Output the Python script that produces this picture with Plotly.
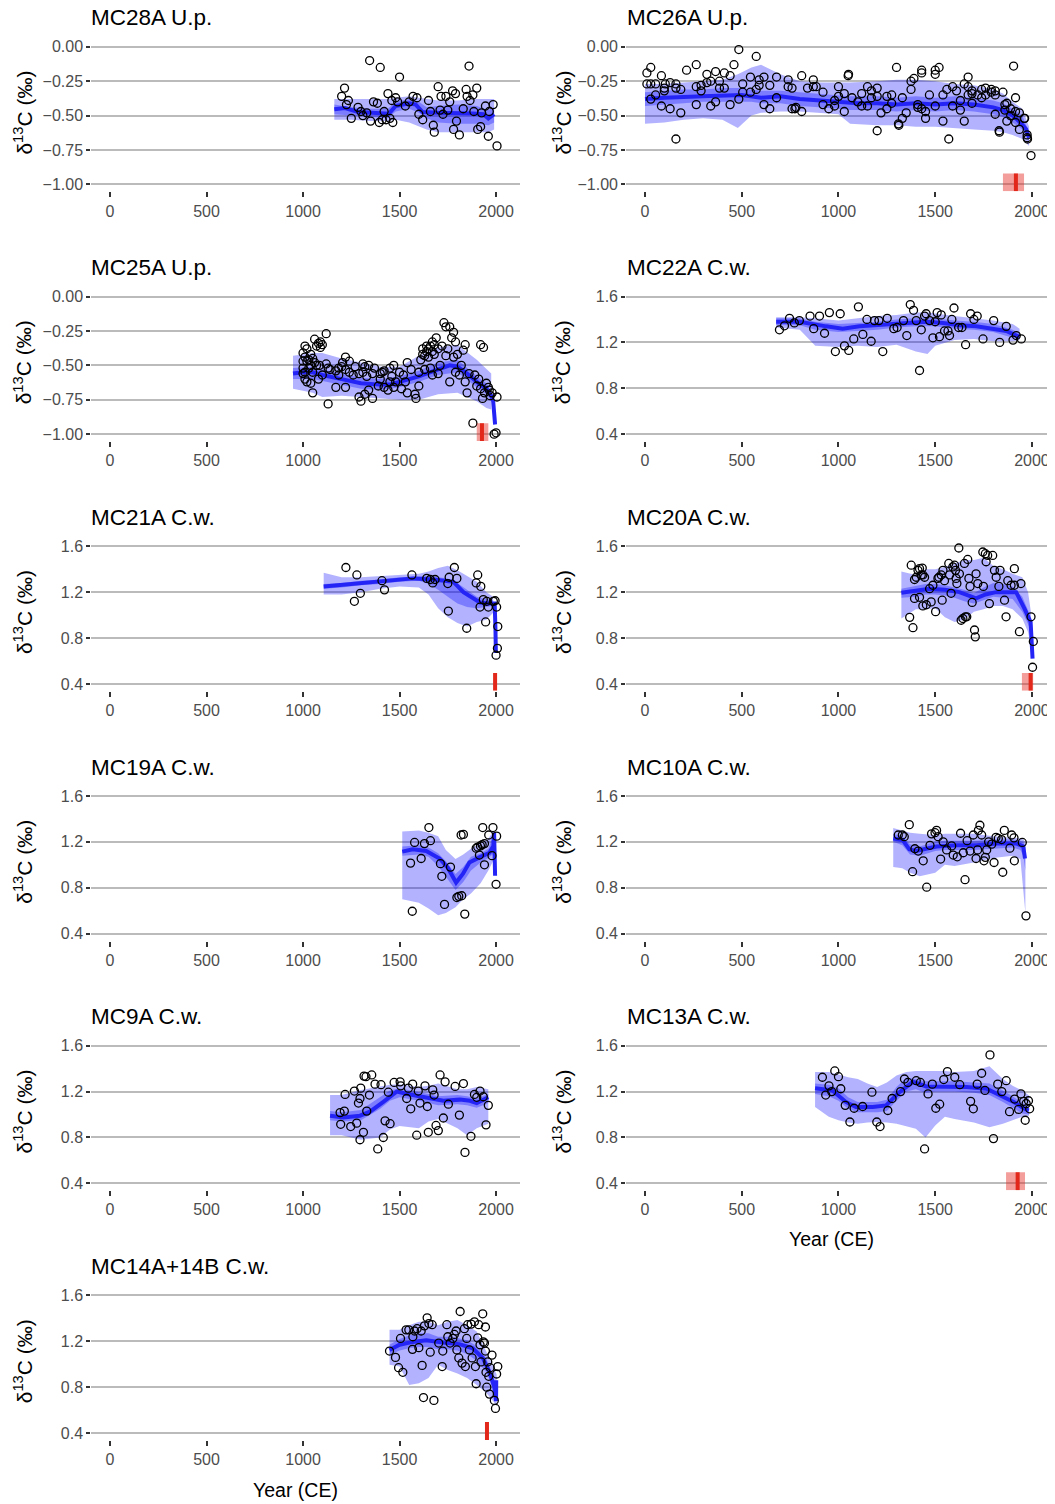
import plotly.graph_objects as go

# ---------------- data ----------------
TITLES = ["MC28A U.p.", "MC26A U.p.", "MC25A U.p.", "MC22A C.w.", "MC21A C.w.", "MC20A C.w.",
          "MC19A C.w.", "MC10A C.w.", "MC9A C.w.", "MC13A C.w.", "MC14A+14B C.w."]
KINDS = ["U.p.", "U.p.", "U.p.", "C.w.", "C.w.", "C.w.", "C.w.", "C.w.", "C.w.", "C.w.", "C.w."]

X_TICKS = [0, 500, 1000, 1500, 2000]
Y_TICKS_UP = [-1.00, -0.75, -0.50, -0.25, 0.00]
Y_TICKS_CW = [0.4, 0.8, 1.2, 1.6]

# points: (year CE, d13C)
MC28A_points = [(1200,-0.36),(1215,-0.30),(1225,-0.42),(1235,-0.39),(1250,-0.52),(1285,-0.44),(1300,-0.47),
    (1310,-0.50),(1330,-0.48),(1345,-0.10),(1350,-0.54),(1365,-0.40),(1385,-0.41),(1395,-0.55),(1400,-0.15),
    (1410,-0.53),(1420,-0.47),(1430,-0.53),(1440,-0.34),(1450,-0.52),(1460,-0.39),(1465,-0.55),(1480,-0.37),
    (1490,-0.40),(1500,-0.22),(1530,-0.43),(1550,-0.40),(1570,-0.36),(1590,-0.37),(1600,-0.49),(1620,-0.53),
    (1650,-0.39),(1660,-0.47),(1675,-0.57),(1680,-0.62),(1700,-0.29),(1710,-0.46),(1715,-0.36),(1725,-0.49),
    (1740,-0.36),(1750,-0.46),(1760,-0.40),(1775,-0.32),(1780,-0.60),(1790,-0.34),(1795,-0.54),(1810,-0.64),
    (1830,-0.45),(1845,-0.31),(1850,-0.36),(1860,-0.14),(1865,-0.39),(1880,-0.35),(1885,-0.47),(1900,-0.30),
    (1905,-0.60),(1920,-0.58),(1925,-0.48),(1945,-0.43),(1960,-0.65),(1965,-0.47),(1985,-0.42),(2005,-0.72)]
MC26A_points = [(10,-0.19),(10,-0.27),(30,-0.15),(30,-0.27),(30,-0.38),(55,-0.27),(55,-0.35),(85,-0.21),(85,-0.43),
    (100,-0.30),(100,-0.32),(105,-0.27),(130,-0.26),(130,-0.45),(160,-0.27),(160,-0.30),(160,-0.67),(185,-0.31),
    (185,-0.48),(215,-0.17),(265,-0.13),(265,-0.29),(265,-0.42),(290,-0.28),(290,-0.32),(320,-0.20),(320,-0.26),
    (340,-0.43),(340,-0.25),(365,-0.18),(365,-0.40),(385,-0.25),(385,-0.30),(410,-0.19),(410,-0.30),(440,-0.21),
    (440,-0.42),(460,-0.13),(485,-0.02),(485,-0.38),(505,-0.27),(505,-0.33),(545,-0.22),(545,-0.33),(575,-0.07),
    (575,-0.31),(590,-0.24),(590,-0.28),(615,-0.22),(615,-0.42),(645,-0.28),(645,-0.45),(680,-0.22),(680,-0.37),
    (740,-0.24),(740,-0.29),(760,-0.30),(760,-0.45),(775,-0.45),(780,-0.44),(810,-0.21),(810,-0.47),(840,-0.30),
    (870,-0.24),(870,-0.29),(885,-0.29),(920,-0.33),(920,-0.42),(950,-0.45),(980,-0.43),(980,-0.39),(1000,-0.29),
    (1000,-0.36),(1030,-0.34),(1030,-0.47),(1050,-0.21),(1052,-0.20),(1070,-0.37),(1100,-0.40),(1120,-0.34),
    (1120,-0.43),(1150,-0.29),(1150,-0.43),(1170,-0.32),(1170,-0.37),(1200,-0.30),(1200,-0.36),(1200,-0.61),
    (1220,-0.48),(1250,-0.36),(1250,-0.45),(1275,-0.35),(1275,-0.41),(1300,-0.15),(1310,-0.56),(1312,-0.57),
    (1330,-0.52),(1330,-0.37),(1350,-0.48),(1375,-0.31),(1375,-0.25),(1390,-0.23),(1410,-0.44),(1410,-0.42),
    (1430,-0.17),(1430,-0.19),(1430,-0.45),(1450,-0.52),(1450,-0.47),(1470,-0.35),(1500,-0.17),(1500,-0.20),
    (1500,-0.43),(1520,-0.15),(1540,-0.54),(1540,-0.35),(1560,-0.31),(1570,-0.67),(1590,-0.29),(1590,-0.43),
    (1610,-0.32),(1630,-0.39),(1630,-0.46),(1650,-0.54),(1650,-0.27),(1670,-0.29),(1670,-0.35),(1670,-0.22),
    (1690,-0.34),(1690,-0.32),(1690,-0.41),(1720,-0.35),(1740,-0.37),(1740,-0.31),(1760,-0.30),(1760,-0.35),
    (1790,-0.31),(1790,-0.33),(1810,-0.32),(1810,-0.35),(1810,-0.49),(1830,-0.61),(1832,-0.62),(1850,-0.33),
    (1860,-0.42),(1860,-0.46),(1870,-0.41),(1870,-0.54),(1890,-0.45),(1890,-0.50),(1905,-0.14),(1915,-0.37),
    (1915,-0.55),(1915,-0.47),(1935,-0.60),(1935,-0.48),(1960,-0.52),(1962,-0.52),(1975,-0.64),(1975,-0.66),
    (1977,-0.67),(1995,-0.79)]
MC25A_points = [(1000,-0.41),(1000,-0.47),(1000,-0.52),(1000,-0.56),(1010,-0.36),(1010,-0.44),(1010,-0.55),
    (1010,-0.60),(1020,-0.38),(1020,-0.47),(1020,-0.62),(1030,-0.46),(1030,-0.52),(1040,-0.42),(1040,-0.50),
    (1040,-0.63),(1050,-0.45),(1050,-0.55),(1050,-0.70),(1060,-0.31),(1060,-0.48),(1070,-0.36),(1070,-0.50),
    (1080,-0.34),(1080,-0.60),(1085,-0.50),(1090,-0.33),(1090,-0.37),(1100,-0.35),(1100,-0.57),(1120,-0.27),
    (1120,-0.49),(1130,-0.52),(1130,-0.78),(1140,-0.53),(1170,-0.54),(1170,-0.66),(1185,-0.52),(1185,-0.57),
    (1200,-0.51),(1205,-0.48),(1220,-0.53),(1220,-0.44),(1220,-0.66),(1240,-0.47),(1240,-0.55),(1260,-0.57),
    (1270,-0.51),(1290,-0.56),(1290,-0.73),(1300,-0.76),(1310,-0.55),(1310,-0.49),(1320,-0.51),(1320,-0.71),
    (1330,-0.58),(1340,-0.50),(1340,-0.68),(1360,-0.56),(1360,-0.74),(1370,-0.52),(1390,-0.65),(1400,-0.56),
    (1400,-0.60),(1410,-0.55),(1420,-0.54),(1420,-0.66),(1440,-0.68),(1450,-0.52),(1450,-0.62),(1460,-0.58),
    (1470,-0.50),(1470,-0.66),(1480,-0.62),(1500,-0.55),(1510,-0.67),(1520,-0.57),(1530,-0.62),(1540,-0.48),
    (1540,-0.70),(1560,-0.53),(1580,-0.71),(1585,-0.74),(1600,-0.55),(1600,-0.65),(1610,-0.46),(1620,-0.38),
    (1620,-0.42),(1630,-0.43),(1630,-0.53),(1640,-0.36),(1640,-0.40),(1650,-0.38),(1650,-0.44),(1660,-0.36),
    (1660,-0.52),(1670,-0.33),(1670,-0.57),(1670,-0.40),(1680,-0.35),(1680,-0.42),(1690,-0.30),(1700,-0.38),
    (1700,-0.56),(1710,-0.50),(1720,-0.36),(1730,-0.19),(1740,-0.22),(1740,-0.43),(1750,-0.38),(1760,-0.22),
    (1760,-0.62),(1770,-0.30),(1780,-0.26),(1780,-0.44),(1790,-0.33),(1790,-0.55),(1800,-0.42),(1810,-0.57),
    (1820,-0.50),(1830,-0.39),(1840,-0.35),(1840,-0.62),(1850,-0.70),(1860,-0.56),(1880,-0.92),(1890,-0.57),
    (1900,-0.65),(1910,-0.60),(1920,-0.35),(1920,-0.67),(1930,-0.74),(1935,-0.37),(1940,-0.70),(1950,-0.63),
    (1960,-0.66),(1965,-0.68),(1970,-0.72),(1980,-0.70),(1990,-1.00),(2000,-0.99),(2005,-0.73)]
MC22A_points = [(695,1.31),(721,1.345),(747,1.41),(772,1.37),(798,1.39),(853,1.43),(872,1.32),(902,1.43),
    (928,1.28),(953,1.46),(984,1.12),(1009,1.45),(1031,1.17),(1053,1.13),(1079,1.23),(1103,1.51),(1126,1.27),
    (1147,1.40),(1169,1.21),(1186,1.39),(1209,1.39),(1229,1.12),(1252,1.41),(1286,1.32),(1303,1.33),(1336,1.39),
    (1353,1.26),(1371,1.53),(1388,1.48),(1402,1.39),(1419,0.955),(1428,1.31),(1445,1.43),(1453,1.45),(1471,1.39),
    (1488,1.24),(1500,1.38),(1510,1.46),(1522,1.25),(1531,1.44),(1548,1.30),(1566,1.30),(1574,1.26),(1586,1.40),
    (1597,1.50),(1621,1.33),(1638,1.33),(1657,1.18),(1683,1.45),(1700,1.40),(1717,1.43),(1747,1.23),(1802,1.39),
    (1833,1.20),(1867,1.34),(1902,1.22),(1919,1.26),(1945,1.23)]
MC21A_points = [(1222,1.415),(1266,1.12),(1279,1.35),(1297,1.19),(1409,1.30),(1422,1.22),(1564,1.35),(1641,1.32),
    (1659,1.31),(1672,1.28),(1684,1.31),(1750,1.275),(1753,1.035),(1757,1.33),(1784,1.415),(1797,1.32),
    (1848,0.885),(1897,1.28),(1905,1.35),(1917,1.07),(1921,1.25),(1934,1.135),(1946,0.94),(1952,1.12),
    (1960,1.07),(1986,1.12),(1995,1.125),(2003,1.07),(2009,0.90),(2007,0.71),(2000,0.65)]
MC20A_points = [(1622,1.585),(1376,1.435),(1368,0.98),(1385,0.89),(1393,1.31),(1402,1.33),(1411,1.39),(1419,1.405),
    (1433,1.41),(1428,1.35),(1436,1.35),(1445,1.33),(1393,1.145),(1419,1.155),(1436,1.08),(1454,1.09),(1479,1.115),
    (1502,1.03),(1471,1.23),(1488,1.26),(1514,1.32),(1519,1.33),(1531,1.35),(1540,1.39),(1536,1.13),(1548,1.30),
    (1570,1.45),(1574,1.35),(1582,1.19),(1591,1.42),(1600,1.435),(1605,1.39),(1608,1.32),(1612,1.275),(1625,1.36),
    (1634,0.955),(1643,0.97),(1656,0.985),(1663,0.985),(1651,1.45),(1668,1.485),(1674,1.32),(1680,1.25),
    (1691,1.11),(1703,0.87),(1707,0.81),(1711,1.36),(1720,1.275),(1746,1.55),(1759,1.535),(1771,1.52),
    (1763,1.465),(1749,1.25),(1780,1.10),(1797,1.52),(1806,1.39),(1815,1.33),(1829,1.25),(1835,1.39),
    (1858,1.13),(1866,0.985),(1875,1.30),(1892,1.26),(1909,1.405),(1909,1.26),(1935,0.855),(1943,1.275),
    (1995,0.985),(2007,0.77),(2003,0.545)]
MC19A_points = [(1652,1.325),(1578,1.195),(1629,1.185),(1660,1.21),(1557,1.015),(1612,1.055),(1566,0.595),
    (1712,1.01),(1719,0.90),(1764,0.98),(1733,0.655),(1797,0.715),(1807,0.725),(1822,0.73),(1819,1.26),
    (1831,1.265),(1838,0.57),(1897,1.145),(1905,1.155),(1919,1.165),(1928,1.175),(1940,1.185),(1914,1.085),
    (1931,1.325),(1940,1.0),(1962,1.26),(1979,1.08),(1984,1.325),(2003,1.25),(2000,0.83)]
MC10A_points = [(1309,1.26),(1330,1.26),(1340,1.245),(1366,1.35),(1383,0.94),(1395,1.14),(1412,1.12),(1438,1.035),
    (1456,0.805),(1473,1.17),(1481,1.27),(1499,1.28),(1507,1.30),(1515,1.245),(1528,1.05),(1541,1.20),(1559,1.13),
    (1585,1.165),(1593,1.085),(1614,1.07),(1631,1.275),(1654,0.87),(1645,1.105),(1665,1.21),(1680,1.12),
    (1697,1.26),(1711,1.055),(1719,1.13),(1723,1.30),(1731,1.345),(1740,1.26),(1752,1.035),(1759,1.065),
    (1766,1.13),(1776,1.20),(1792,1.18),(1804,1.02),(1814,1.24),(1826,1.23),(1843,1.22),(1849,0.935),(1857,1.30),
    (1886,1.145),(1895,1.26),(1907,1.235),(1909,1.035),(1950,1.195),(1969,0.555)]
MC9A_points = [(1192,1.017),(1214,1.03),(1195,0.915),(1218,1.175),(1247,0.895),(1266,1.205),(1278,0.925),
    (1287,1.10),(1295,1.14),(1299,1.23),(1295,0.78),(1313,0.845),(1316,1.335),(1326,1.33),(1330,1.03),(1344,1.17),
    (1356,1.345),(1373,1.265),(1387,0.70),(1404,1.26),(1416,0.80),(1425,0.945),(1442,1.195),(1451,0.92),
    (1472,1.28),(1503,1.285),(1506,1.25),(1537,1.14),(1546,1.23),(1558,1.05),(1568,1.265),(1589,0.82),
    (1597,1.205),(1606,1.10),(1632,1.25),(1644,1.07),(1649,0.845),(1672,1.215),(1679,1.17),(1689,0.905),
    (1701,0.86),(1710,1.345),(1727,0.97),(1736,1.285),(1753,1.09),(1788,1.245),(1810,0.995),(1831,1.27),
    (1839,0.67),(1870,0.81),(1888,1.175),(1900,1.15),(1917,1.205),(1934,1.155),(1948,0.91),(1960,1.08)]
MC13A_points = [(917,1.325),(934,1.17),(951,1.25),(965,1.20),(981,1.38),(1000,1.33),(1012,1.225),(1035,1.08),
    (1059,0.935),(1081,1.055),(1125,1.07),(1173,1.195),(1198,0.935),(1215,0.895),(1255,1.035),(1277,1.14),
    (1321,1.20),(1341,1.31),(1359,1.28),(1402,1.295),(1423,1.28),(1445,0.70),(1463,1.18),(1485,1.265),
    (1503,1.055),(1523,1.09),(1544,1.305),(1563,1.375),(1601,1.325),(1627,1.26),(1683,1.115),(1697,1.05),
    (1717,1.265),(1740,1.36),(1757,1.21),(1783,1.52),(1801,0.79),(1823,1.265),(1844,1.20),(1867,1.295),
    (1884,1.025),(1910,1.135),(1931,1.045),(1943,1.18),(1957,1.115),(1965,0.95),(1970,1.095),(1982,1.12),
    (1988,1.05)]
MC14A_points = [(1448,1.115),(1479,1.06),(1495,0.97),(1517,0.93),(1505,1.225),(1534,1.30),(1548,1.30),(1567,1.13),
    (1569,1.24),(1578,1.29),(1591,1.31),(1600,1.145),(1612,1.29),(1617,0.99),(1629,1.335),(1643,1.405),
    (1652,1.355),(1659,1.105),(1669,1.345),(1678,0.685),(1624,0.71),(1703,1.185),(1721,0.98),(1724,1.115),
    (1745,1.345),(1750,1.24),(1762,1.185),(1776,1.225),(1784,1.26),(1793,1.29),(1797,1.125),(1807,1.055),
    (1814,1.46),(1824,1.01),(1836,1.31),(1841,0.98),(1848,1.225),(1853,1.345),(1862,1.125),(1871,1.35),
    (1876,1.055),(1888,1.37),(1893,0.98),(1897,0.83),(1905,1.23),(1910,1.345),(1917,1.17),(1922,1.02),
    (1931,1.44),(1934,1.195),(1940,1.185),(1945,1.115),(1945,1.325),(1948,0.93),(1952,0.80),(1957,1.02),
    (1962,0.895),(1966,0.74),(1969,0.97),(1979,1.08),(1991,0.685),(1997,0.615),(2003,0.915),(2009,0.98)]

# smoothed curve: (year, d13C)
MC28A_line = [(1162,-0.454),(1217,-0.445),(1287,-0.474),(1350,-0.48),(1445,-0.486),(1480,-0.43),(1549,-0.41),
    (1584,-0.42),(1619,-0.474),(1700,-0.48),(1794,-0.48),(1880,-0.485),(1934,-0.49),(1960,-0.52),(1990,-0.49)]
MC26A_line = [(0,-0.38),(100,-0.37),(300,-0.36),(500,-0.35),(600,-0.37),(700,-0.36),(800,-0.38),(900,-0.39),
    (1000,-0.40),(1100,-0.41),(1200,-0.41),(1300,-0.42),(1400,-0.41),(1500,-0.42),(1600,-0.41),(1700,-0.42),
    (1800,-0.44),(1850,-0.46),(1900,-0.50),(1940,-0.55),(1970,-0.60),(1985,-0.66)]
MC25A_line = [(948,-0.56),(1000,-0.55),(1050,-0.55),(1100,-0.57),(1200,-0.60),(1300,-0.63),(1400,-0.64),
    (1450,-0.64),(1500,-0.62),(1600,-0.58),(1700,-0.53),(1760,-0.50),(1800,-0.51),(1850,-0.56),(1900,-0.62),
    (1950,-0.67),(1975,-0.72),(1985,-0.76),(1995,-0.93)]
MC22A_line = [(678,1.38),(798,1.38),(936,1.34),(1022,1.32),(1109,1.34),(1281,1.36),(1453,1.38),(1540,1.37),
    (1626,1.35),(1712,1.34),(1798,1.32),(1867,1.30),(1919,1.26),(1936,1.25)]
MC21A_line = [(1107,1.25),(1245,1.27),(1417,1.29),(1572,1.32),(1676,1.31),(1779,1.29),(1831,1.20),(1917,1.11),
    (1969,1.10),(1993,1.10),(1997,0.87),(1999,0.67)]
MC20A_line = [(1325,1.195),(1400,1.21),(1471,1.23),(1550,1.22),(1625,1.20),(1711,1.145),(1760,1.18),(1814,1.20),
    (1918,1.20),(1960,1.06),(1993,0.94),(2003,0.62)]
MC19A_line = [(1514,1.115),(1569,1.135),(1638,1.12),(1707,1.055),(1750,0.975),(1793,0.845),(1828,0.92),
    (1862,1.02),(1914,1.065),(1966,1.105),(1986,1.165),(1990,1.28),(1995,0.905)]
MC10A_line = [(1283,1.23),(1332,1.215),(1366,1.135),(1400,1.12),(1507,1.16),(1610,1.17),(1714,1.17),(1817,1.185),
    (1921,1.185),(1955,1.16),(1964,1.055)]
MC9A_line = [(1140,0.99),(1209,0.975),(1295,0.99),(1347,1.025),(1416,1.11),(1485,1.20),(1554,1.175),(1640,1.15),
    (1727,1.12),(1813,1.13),(1865,1.12),(1900,1.10),(1934,1.13),(1960,1.15)]
MC13A_line = [(879,1.23),(969,1.21),(1038,1.11),(1090,1.065),(1177,1.065),(1246,1.08),(1315,1.195),(1385,1.285),
    (1454,1.245),(1575,1.245),(1662,1.24),(1766,1.225),(1835,1.165),(1905,1.11),(1957,1.055),(1983,1.035)]
MC14A_line = [(1448,1.125),(1500,1.17),(1569,1.195),(1638,1.21),(1724,1.19),(1810,1.175),(1879,1.14),
    (1931,1.055),(1966,0.935),(1991,0.80),(2000,0.68),(2001,0.86)]

# envelopes: (year, outer_low, inner_low, inner_high, outer_high)
MC28A_band = [(1162,-0.53,-0.49,-0.42,-0.38),(1250,-0.53,-0.50,-0.44,-0.38),(1350,-0.54,-0.51,-0.45,-0.38),
    (1440,-0.54,-0.52,-0.45,-0.38),(1480,-0.53,-0.47,-0.40,-0.37),(1550,-0.55,-0.45,-0.38,-0.36),
    (1600,-0.58,-0.48,-0.40,-0.37),(1640,-0.60,-0.52,-0.44,-0.38),(1700,-0.62,-0.55,-0.43,-0.39),
    (1800,-0.62,-0.56,-0.42,-0.39),(1900,-0.62,-0.56,-0.43,-0.38),(1960,-0.62,-0.57,-0.46,-0.38),
    (1990,-0.60,-0.55,-0.44,-0.38)]
MC26A_band = [(0,-0.56,-0.43,-0.33,-0.27),(100,-0.55,-0.42,-0.32,-0.27),(200,-0.53,-0.41,-0.31,-0.26),
    (300,-0.52,-0.40,-0.31,-0.25),(400,-0.53,-0.40,-0.30,-0.24),(480,-0.59,-0.40,-0.30,-0.20),
    (550,-0.50,-0.40,-0.31,-0.15),(600,-0.48,-0.41,-0.32,-0.13),(700,-0.47,-0.41,-0.32,-0.20),
    (800,-0.47,-0.43,-0.33,-0.25),(900,-0.48,-0.44,-0.34,-0.26),(1000,-0.49,-0.45,-0.35,-0.26),
    (1060,-0.56,-0.46,-0.36,-0.26),(1200,-0.57,-0.46,-0.36,-0.25),(1300,-0.57,-0.47,-0.37,-0.24),
    (1400,-0.58,-0.46,-0.36,-0.24),(1500,-0.58,-0.47,-0.37,-0.25),(1600,-0.59,-0.46,-0.36,-0.27),
    (1700,-0.60,-0.47,-0.37,-0.28),(1800,-0.61,-0.49,-0.39,-0.31),(1850,-0.62,-0.51,-0.41,-0.34),
    (1900,-0.64,-0.55,-0.45,-0.40),(1950,-0.67,-0.60,-0.50,-0.45),(1985,-0.72,-0.69,-0.62,-0.58)]
MC25A_band = [(948,-0.67,-0.60,-0.52,-0.43),(1050,-0.70,-0.60,-0.51,-0.41),(1100,-0.73,-0.61,-0.53,-0.41),
    (1200,-0.72,-0.64,-0.56,-0.45),(1300,-0.73,-0.67,-0.59,-0.48),(1400,-0.74,-0.68,-0.60,-0.51),
    (1500,-0.75,-0.66,-0.58,-0.51),(1600,-0.75,-0.62,-0.54,-0.43),(1700,-0.71,-0.57,-0.48,-0.37),
    (1800,-0.70,-0.55,-0.46,-0.35),(1900,-0.76,-0.66,-0.58,-0.46),(1950,-0.81,-0.71,-0.63,-0.53),
    (1975,-0.82,-0.76,-0.69,-0.56)]
MC22A_band = [(678,1.33,1.35,1.41,1.42),(800,1.31,1.35,1.41,1.42),(880,1.17,1.31,1.38,1.41),(1000,1.16,1.29,1.36,1.39),
    (1100,1.17,1.30,1.37,1.41),(1200,1.16,1.31,1.38,1.43),(1300,1.18,1.33,1.40,1.44),(1400,1.12,1.34,1.41,1.46),
    (1460,1.10,1.34,1.42,1.46),(1500,1.17,1.34,1.41,1.45),(1600,1.22,1.32,1.39,1.43),(1700,1.23,1.31,1.38,1.41),
    (1800,1.21,1.29,1.36,1.39),(1900,1.21,1.24,1.31,1.36),(1936,1.22,1.23,1.28,1.32)]
MC21A_band = [(1107,1.18,1.23,1.27,1.37),(1200,1.18,1.24,1.28,1.33),(1300,1.20,1.26,1.30,1.33),(1400,1.23,1.27,1.31,1.34),
    (1500,1.25,1.29,1.33,1.35),(1600,1.24,1.30,1.34,1.36),(1650,1.18,1.27,1.34,1.38),(1700,1.06,1.22,1.33,1.41),
    (1750,0.98,1.16,1.32,1.43),(1800,0.93,1.10,1.28,1.39),(1850,0.90,1.07,1.22,1.34),(1900,0.94,1.06,1.16,1.29),
    (1950,0.96,1.07,1.14,1.20),(1985,1.02,1.08,1.13,1.16)]
MC20A_band = [(1325,0.97,1.15,1.23,1.38),(1400,1.05,1.16,1.25,1.35),(1450,1.05,1.18,1.27,1.40),(1500,1.06,1.18,1.27,1.40),
    (1550,0.98,1.17,1.26,1.42),(1600,0.94,1.15,1.24,1.45),(1650,0.96,1.12,1.22,1.48),(1700,1.03,1.10,1.19,1.48),
    (1750,1.05,1.13,1.24,1.50),(1800,1.08,1.16,1.28,1.43),(1850,1.08,1.15,1.27,1.40),(1900,1.05,1.14,1.25,1.36),
    (1950,0.97,1.03,1.16,1.33),(1980,0.85,0.92,1.04,1.20),(1995,0.72,0.85,0.95,1.02)]
MC19A_band = [(1514,0.70,1.08,1.16,1.29),(1600,0.67,1.09,1.17,1.30),(1650,0.62,1.07,1.15,1.28),(1700,0.56,0.99,1.10,1.25),
    (1740,0.58,0.90,1.03,1.13),(1790,0.63,0.78,0.92,1.05),(1830,0.70,0.85,0.98,1.09),(1870,0.75,0.95,1.07,1.14),
    (1920,0.84,1.02,1.10,1.19),(1960,0.95,1.06,1.14,1.23),(1990,1.05,1.10,1.28,1.30)]
MC10A_band = [(1283,0.98,1.20,1.27,1.32),(1330,0.97,1.17,1.25,1.30),(1370,0.93,1.09,1.18,1.28),(1420,0.90,1.08,1.16,1.27),
    (1500,0.93,1.12,1.20,1.26),(1550,1.00,1.13,1.21,1.27),(1600,0.99,1.13,1.21,1.27),(1700,1.02,1.13,1.21,1.27),
    (1800,1.06,1.14,1.22,1.25),(1900,1.08,1.15,1.22,1.24),(1940,1.05,1.13,1.21,1.23),(1955,0.80,1.08,1.20,1.22),
    (1966,0.58,0.95,1.15,1.20)]
MC9A_band = [(1140,0.82,0.95,1.03,1.17),(1200,0.82,0.94,1.02,1.17),(1300,0.78,0.95,1.04,1.215),(1400,0.80,1.05,1.15,1.245),
    (1450,0.87,1.12,1.21,1.26),(1500,0.90,1.15,1.23,1.265),(1600,0.88,1.12,1.20,1.24),(1650,0.94,1.10,1.18,1.25),
    (1700,0.96,1.08,1.16,1.27),(1800,0.88,1.09,1.17,1.22),(1850,0.82,1.08,1.16,1.22),(1900,0.88,1.06,1.14,1.24),
    (1960,0.92,1.10,1.18,1.22)]
MC13A_band = [(879,1.065,1.18,1.27,1.37),(950,0.98,1.16,1.26,1.37),(1000,0.95,1.12,1.23,1.35),(1050,0.93,1.05,1.15,1.325),
    (1100,0.92,1.02,1.11,1.31),(1150,0.93,1.02,1.11,1.27),(1200,0.935,1.02,1.11,1.24),(1250,0.93,1.03,1.13,1.28),
    (1300,0.92,1.12,1.24,1.34),(1350,0.90,1.20,1.32,1.37),(1400,0.875,1.22,1.31,1.38),(1450,0.80,1.19,1.29,1.38),
    (1500,0.905,1.20,1.29,1.38),(1550,0.98,1.20,1.29,1.38),(1600,0.96,1.20,1.29,1.37),(1700,0.93,1.19,1.28,1.38),
    (1780,0.89,1.17,1.27,1.42),(1850,0.92,1.11,1.21,1.31),(1900,0.95,1.06,1.16,1.25),(1950,0.98,1.01,1.10,1.21),
    (1985,0.99,1.00,1.07,1.165)]
MC14A_band = [(1448,0.995,1.08,1.17,1.30),(1500,0.98,1.12,1.22,1.30),(1550,0.82,1.14,1.25,1.34),(1600,0.835,1.15,1.27,1.37),
    (1650,0.88,1.15,1.27,1.37),(1700,0.995,1.13,1.24,1.34),(1750,0.95,1.13,1.24,1.37),(1800,0.92,1.12,1.23,1.385),
    (1850,0.88,1.09,1.21,1.34),(1900,0.82,1.03,1.16,1.285),(1950,0.75,0.93,1.05,1.11),(1990,0.665,0.76,0.87,0.965),
    (2003,0.64,0.66,0.80,0.91)]

# red date markers: (range start, range end, point) in years CE, or None
RED_MARKS = [None, (1850, 1959, 1917), (1900, 1960, 1927), None, (1995, 1995, 1995), (1948, 2006, 1993),
             None, None, None, (1866, 1964, 1926), (1953, 1953, 1953)]

POINTS = [MC28A_points, MC26A_points, MC25A_points, MC22A_points, MC21A_points, MC20A_points,
          MC19A_points, MC10A_points, MC9A_points, MC13A_points, MC14A_points]
LINES = [MC28A_line, MC26A_line, MC25A_line, MC22A_line, MC21A_line, MC20A_line,
         MC19A_line, MC10A_line, MC9A_line, MC13A_line, MC14A_line]
BANDS = [MC28A_band, MC26A_band, MC25A_band, MC22A_band, MC21A_band, MC20A_band,
         MC19A_band, MC10A_band, MC9A_band, MC13A_band, MC14A_band]

# ---------------- layout / style ----------------
# The page body has an 8px margin, so the figure is offset by OFF pixels.
OFF = 8
W, H = 1055 - OFF, 1504 - OFF
FONT = "Liberation Sans, Arial, Helvetica, sans-serif"
ROW_TOP0, ROW_STEP, PLOT_H = 38.0, 250.4, 151.8
COL_LEFT = [91.3, 626.2]
COL_RIGHT = [519.6, 1055.0]
X_RANGE = [[-97, 2122], [-97, 2119]]
Y_RANGE = {"U.p.": [-1.05, 0.05], "C.w.": [0.34, 1.66]}
RED_TOP = {"U.p.": -0.92, "C.w.": 0.496}
BAND_FILL = "rgba(0,0,255,0.30)"
LINE_COL = "rgb(36,36,246)"
GRID = "#BBBBBB"
TICKCOL = "#4D4D4D"


def px(xp):
    return (xp - OFF) / W


def py(yp):
    return 1 - (yp - OFF) / H


fig = go.Figure()
shapes, annotations = [], []

for i, title in enumerate(TITLES):
    r, c = divmod(i, 2)
    n = i + 1
    xs = "" if n == 1 else str(n)
    xref, yref = "x" + xs, "y" + xs
    kind = KINDS[i]
    top = ROW_TOP0 + r * ROW_STEP
    bot = top + PLOT_H

    band = BANDS[i]
    byr = [b[0] for b in band]
    olo = [b[1] for b in band]; ilo = [b[2] for b in band]
    ihi = [b[3] for b in band]; ohi = [b[4] for b in band]
    for lo, hi in ((olo, ohi), (ilo, ihi)):
        fig.add_trace(go.Scatter(x=byr + byr[::-1], y=hi + lo[::-1], fill="toself", fillcolor=BAND_FILL,
                                 line=dict(width=0), mode="lines", hoverinfo="skip", showlegend=False,
                                 xaxis=xref, yaxis=yref))
    ln = LINES[i]
    fig.add_trace(go.Scatter(x=[p[0] for p in ln], y=[p[1] for p in ln], mode="lines",
                             line=dict(color=LINE_COL, width=4), showlegend=False, xaxis=xref, yaxis=yref))
    pts = POINTS[i]
    fig.add_trace(go.Scatter(x=[p[0] for p in pts], y=[p[1] for p in pts], mode="markers",
                             marker=dict(symbol="circle-open", size=8, color="black", line=dict(width=1.3)),
                             showlegend=False, xaxis=xref, yaxis=yref))

    rm = RED_MARKS[i]
    if rm is not None:
        y0 = Y_RANGE[kind][0]
        y1 = RED_TOP[kind]
        if rm[1] > rm[0]:
            shapes.append(dict(type="rect", xref=xref, yref=yref, x0=rm[0], x1=rm[1], y0=y0, y1=y1,
                               fillcolor="rgba(228,40,30,0.45)", line=dict(width=0), layer="above"))
        shapes.append(dict(type="line", xref=xref, yref=yref, x0=rm[2], x1=rm[2], y0=y0, y1=y1,
                           line=dict(color="rgb(226,40,26)", width=4), layer="above"))

    yt = Y_TICKS_UP if kind == "U.p." else Y_TICKS_CW
    fig.update_layout(**{
        "xaxis" + xs: dict(domain=[px(COL_LEFT[c]), min(1.0, px(COL_RIGHT[c]))], range=X_RANGE[c], anchor=yref,
                           tickvals=X_TICKS, showgrid=False, zeroline=False, showline=False,
                           ticks="outside", ticklen=5, tickwidth=2, tickcolor="#333333",
                           tickfont=dict(size=16, color=TICKCOL, family=FONT)),
        "yaxis" + xs: dict(domain=[py(bot), py(top)], range=Y_RANGE[kind], anchor=xref,
                           tickvals=yt, tickformat=".2f" if kind == "U.p." else ".1f",
                           showgrid=True, gridcolor=GRID, gridwidth=2, zeroline=False, showline=False,
                           ticks="outside", ticklen=4, tickwidth=2, tickcolor="#333333",
                           tickfont=dict(size=16, color=TICKCOL, family=FONT)),
    })

    annotations.append(dict(text=title, xref="paper", yref="paper", x=px(89 if c == 0 else 625),
                            y=py(16 + r * ROW_STEP), xanchor="left", yanchor="middle", showarrow=False,
                            font=dict(size=22.5, color="black", family=FONT)))
    annotations.append(dict(text="δ<sup>13</sup>C (‰)", xref="paper", yref="paper",
                            x=px(23 if c == 0 else 562), y=py(top + PLOT_H / 2 - 3),
                            xanchor="center", yanchor="middle", textangle=-90, showarrow=False,
                            font=dict(size=21, color="black", family=FONT)))

annotations.append(dict(text="Year (CE)", xref="paper", yref="paper", x=px(295), y=py(1492),
                        xanchor="center", yanchor="middle", showarrow=False,
                        font=dict(size=19.5, color="black", family=FONT)))
annotations.append(dict(text="Year (CE)", xref="paper", yref="paper", x=px(831), y=py(1240),
                        xanchor="center", yanchor="middle", showarrow=False,
                        font=dict(size=19.5, color="black", family=FONT)))

fig.update_layout(width=W, height=H, margin=dict(l=0, r=0, t=0, b=0), paper_bgcolor="white",
                  plot_bgcolor="white", shapes=shapes, annotations=annotations,
                  font=dict(family=FONT), showlegend=False)

fig.write_html("out.html")
